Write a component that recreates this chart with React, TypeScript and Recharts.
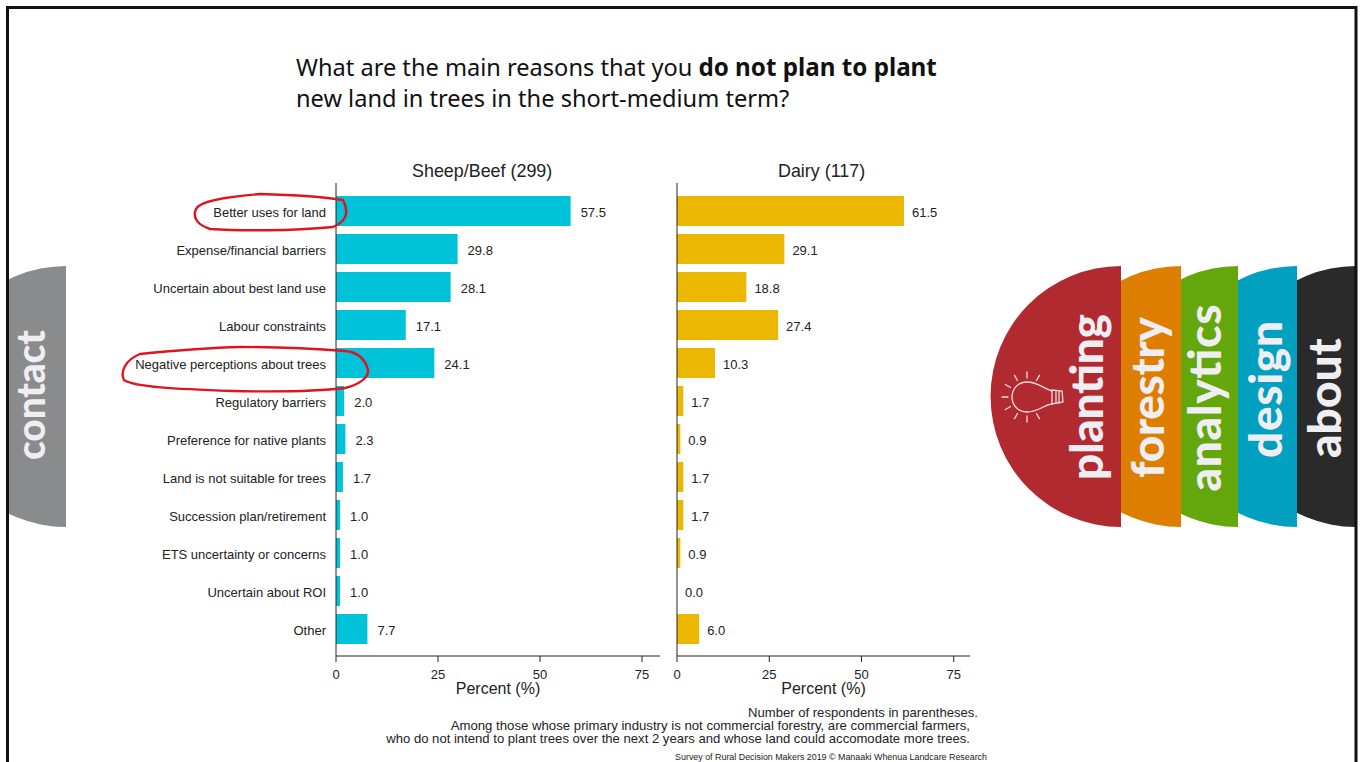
import { BarChart, Bar, XAxis, YAxis, LabelList } from 'recharts';

const reasons = [
  'Better uses for land',
  'Expense/financial barriers',
  'Uncertain about best land use',
  'Labour constraints',
  'Negative perceptions about trees',
  'Regulatory barriers',
  'Preference for native plants',
  'Land is not suitable for trees',
  'Succession plan/retirement',
  'ETS uncertainty or concerns',
  'Uncertain about ROI',
  'Other',
];
const sheepBeef = [57.5, 29.8, 28.1, 17.1, 24.1, 2.0, 2.3, 1.7, 1.0, 1.0, 1.0, 7.7];
const dairy = [61.5, 29.1, 18.8, 27.4, 10.3, 1.7, 0.9, 1.7, 1.7, 0.9, 0.0, 6.0];
const percentTicks = [0, 25, 50, 75];

const sheepRows = reasons.map((reason, i) => ({ reason, value: sheepBeef[i] }));
const dairyRows = reasons.map((reason, i) => ({ reason, value: dairy[i] }));

const SANS = '"Liberation Sans", Arial, sans-serif';
const INK = '#222';

// side tabs, painted back to front
const tabs = [
  { name: 'about', cx: 1356, fill: '#2a2a2a', textX: 1341, midY: 398, len: 120 },
  { name: 'design', cx: 1297, fill: '#019fc0', textX: 1282, midY: 389.5, len: 137 },
  { name: 'analytics', cx: 1238, fill: '#63a70c', textX: 1221, midY: 398, len: 187 },
  { name: 'forestry', cx: 1181, fill: '#dd7e00', textX: 1164, midY: 397.5, len: 161 },
  { name: 'planting', cx: 1121, fill: '#b12a30', textX: 1103, midY: 397, len: 166 },
];
const bulbRays = [90, 60, 120, 150, 180, 210, 240, 270, 300];

function Panel({ rows, fill, left, width, yAxisWidth, showNames, labelOffset }: any) {
  return (
    <div style={{ position: 'absolute', left, top: 150 }}>
      <BarChart
        width={width}
        height={560}
        data={rows}
        layout="vertical"
        barCategoryGap={4}
        margin={{ top: 33, right: 0, bottom: 0, left: 0 }}
      >
        <XAxis
          type="number"
          domain={[0, 79.4]}
          ticks={percentTicks}
          allowDataOverflow
          height={54}
          stroke={INK}
          tickSize={6}
          tickMargin={8}
          tick={{ fill: INK, fontSize: 13, fontFamily: SANS }}
          label={{ value: 'Percent (%)', position: 'insideBottom', offset: 16, fill: INK, fontSize: 16, fontFamily: SANS }}
        />
        <YAxis
          type="category"
          dataKey="reason"
          width={yAxisWidth}
          padding={{ top: 9, bottom: 8 }}
          stroke={INK}
          interval={0}
          tickLine={false}
          tickMargin={4}
          tick={showNames ? { fill: INK, fontSize: 13, fontFamily: SANS, dy: 1 } : false}
        />
        <Bar dataKey="value" fill={fill} minPointSize={0.01} isAnimationActive={false}>
          <LabelList
            dataKey="value"
            position="right"
            offset={labelOffset}
            dy={1}
            formatter={(v: any) => Number(v).toFixed(1)}
            style={{ fill: INK, fontSize: 13, fontFamily: SANS }}
          />
        </Bar>
      </BarChart>
    </div>
  );
}

function HalfDisc({ cx, fill }: { cx: number; fill: string }) {
  return <path d={`M${cx},266 A130.5,130.5 0 0 0 ${cx},527 Z`} fill={fill} />;
}

function TabText({ x, midY, size, len, children }: any) {
  return (
    <text
      x={x}
      y={midY}
      transform={`rotate(-90 ${x} ${midY})`}
      textAnchor="middle"
      textLength={len}
      lengthAdjust="spacing"
      fontFamily="Lato, sans-serif"
      fontWeight={900}
      fontSize={size}
      fill="#f0eef2"
    >
      {children}
    </text>
  );
}

// light bulb icon on the planting tab
function Bulb() {
  return (
    <g stroke="#f0dcdc" strokeWidth={1.3} fill="none" strokeLinecap="round">
      {bulbRays.map((deg) => {
        const a = (deg * Math.PI) / 180;
        return (
          <line
            key={deg}
            x1={1027 + 19 * Math.cos(a)}
            y1={397 - 19 * Math.sin(a)}
            x2={1027 + 25 * Math.cos(a)}
            y2={397 - 25 * Math.sin(a)}
          />
        );
      })}
      <path d="M1052,391 C1044,389 1038,382 1027,382 C1017,382 1012,390 1012,397 C1012,405 1018,412 1027,412 C1038,412 1044,405 1052,404" />
      <path d="M1052,390 L1062,391 L1063,402 L1052,404 Z" />
      <path d="M1056,391 L1056,403 M1059,391 L1059,403" />
    </g>
  );
}

function Decorations() {
  return (
    <svg width={1361} height={762} style={{ position: 'absolute', left: 0, top: 0, pointerEvents: 'none' }}>
      <defs>
        <clipPath id="inside-frame">
          <rect x={8} y={8} width={1347} height={754} />
        </clipPath>
      </defs>
      <path d="M66,266 A130.5,130.5 0 0 0 66,527 Z" fill="#8a8b8d" clipPath="url(#inside-frame)" />
      <TabText x={45} midY={395} size={39} len={130}>contact</TabText>
      {tabs.map((t) => (
        <HalfDisc key={t.name} cx={t.cx} fill={t.fill} />
      ))}
      {tabs.map((t) => (
        <TabText key={t.name} x={t.textX} midY={t.midY} size={46} len={t.len}>{t.name}</TabText>
      ))}
      <Bulb />
      {/* hand drawn rings */}
      <path
        d="M343,200 C325,197 300,195 260,194 C225,197 200,201 196,209 C192,218 198,225 210,229 C240,231 290,231 333,227 C345,222 350,214 343,200 Z"
        fill="none"
        stroke="#e0141f"
        strokeWidth={2.4}
      />
      <path
        d="M240,347 C200,348 160,352 140,354 C125,360 120,372 124,380 C135,387 175,389 233,391 C280,392 320,391 345,388 C358,385 369,378 368,370 C365,358 358,352 345,351 C320,349 280,347 240,347 Z"
        fill="none"
        stroke="#e0141f"
        strokeWidth={2.4}
      />
      {/* slide frame */}
      <path d="M7.5,770 L7.5,7.5 L1356,7.5 L1356,770" fill="none" stroke="#111" strokeWidth={3} />
    </svg>
  );
}

const footStyle: any = {
  position: 'absolute',
  whiteSpace: 'nowrap',
  fontFamily: SANS,
  color: INK,
  transform: 'translateY(-50%)',
};

export default function App() {
  return (
    <div style={{ position: 'absolute', left: 0, top: 0, width: 1361, height: 762, overflow: 'hidden', background: '#fff' }}>
      <div style={{ position: 'absolute', left: 296, top: 51, fontFamily: '"Noto Sans", sans-serif', fontSize: 23.6, lineHeight: '31px', color: '#111', whiteSpace: 'nowrap' }}>
        What are the main reasons that you <b style={{ fontSize: 24.2 }}>do not plan to plant</b>
        <br />
        new land in trees in the short-medium term?
      </div>

      <div style={{ ...footStyle, left: 412, top: 171, fontSize: 17.9 }}>Sheep/Beef (299)</div>
      <div style={{ ...footStyle, left: 778, top: 171, fontSize: 17.9 }}>Dairy (117)</div>

      <Panel rows={sheepRows} fill="#00c3da" left={0} width={660} yAxisWidth={336} showNames labelOffset={10} />
      <Panel rows={dairyRows} fill="#ebb700" left={660} width={310} yAxisWidth={17} showNames={false} labelOffset={8} />

      <div style={{ ...footStyle, right: 383, top: 712, fontSize: 13.1 }}>Number of respondents in parentheses.</div>
      <div style={{ ...footStyle, right: 391, top: 725, fontSize: 13.2 }}>Among those whose primary industry is not commercial forestry, are commercial farmers,</div>
      <div style={{ ...footStyle, right: 391, top: 738, fontSize: 13.1 }}>who do not intend to plant trees over the next 2 years and whose land could accomodate more trees.</div>
      <div style={{ ...footStyle, right: 374, top: 757, fontSize: 8.9 }}>Survey of Rural Decision Makers 2019 © Manaaki Whenua Landcare Research</div>

      <Decorations />
    </div>
  );
}
